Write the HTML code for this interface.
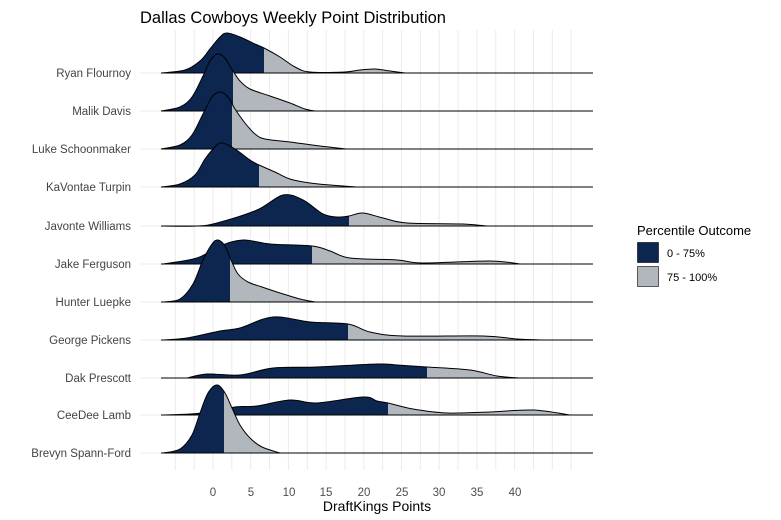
<!DOCTYPE html>
<html><head><meta charset="utf-8"><style>body{margin:0;background:#fff}svg{display:block;font-family:"Liberation Sans",sans-serif}</style></head>
<body>
<svg id="s" width="781" height="520" xmlns="http://www.w3.org/2000/svg">
<text x="140" y="23" font-size="16.5" fill="#000">Dallas Cowboys Weekly Point Distribution</text>
<g id="grid"></g><g id="ridges"></g><g id="labels" font-size="11.5" fill="#444" text-anchor="end"></g>
<g font-size="11.5" fill="#4d4d4d" text-anchor="middle">
<text x="213" y="496">0</text><text x="251" y="496">5</text><text x="289" y="496">10</text><text x="326" y="496">15</text><text x="364" y="496">20</text><text x="402" y="496">25</text><text x="439" y="496">30</text><text x="477" y="496">35</text><text x="515" y="496">40</text>
</g>
<text x="377" y="511" font-size="14" fill="#000" text-anchor="middle">DraftKings Points</text>
<text x="637" y="235" font-size="13" fill="#000">Percentile Outcome</text>
<rect x="637.5" y="242.5" width="21" height="20" fill="#0c2650" stroke="#000" stroke-width="0.6"/>
<rect x="637.5" y="266.5" width="21" height="20" fill="#b1b7bd" stroke="#000" stroke-width="0.6"/>
<text x="667" y="257" font-size="11" fill="#000">0 - 75%</text>
<text x="667" y="281" font-size="11" fill="#000">75 - 100%</text>
</svg>
<script>
var NS="http://www.w3.org/2000/svg";
function el(t,a,p){var e=document.createElementNS(NS,t);for(var k in a)e.setAttribute(k,a[k]);p.appendChild(e);return e;}
var g=document.getElementById('grid');
for(var x=175.3;x<590;x+=18.85){el('line',{x1:x,x2:x,y1:30,y2:470,stroke:'#ebebeb','stroke-width':1},g);}
for(var y of [73,111,149,187,226,264,302,340,378,415,453]){el('line',{x1:140,x2:593,y1:y,y2:y,stroke:'#ebebeb'},g);}
var rows=[
["Ryan Flournoy",73,264,[[161,0],[185,3],[200,12],[210,24],[220,36],[227,40],[240,36],[255,29],[264,25],[280,16],[295,6],[310,1],[345,1],[360,3],[375,4],[390,2],[405,0]]],
["Malik Davis",111,233,[[161,0],[180,4],[192,14],[203,35],[210,50],[217,57],[224,54],[233,40],[240,30],[250,22],[270,15],[290,8],[305,2],[315,0]]],
["Luke Schoonmaker",149,232,[[161,0],[180,4],[192,14],[203,35],[212,52],[220,57],[228,52],[235,40],[245,26],[255,15],[265,10],[290,7],[320,3],[347,0]]],
["KaVontae Turpin",187,259,[[161,0],[180,3],[195,12],[205,28],[215,40],[222,44],[235,38],[250,27],[259,22],[275,15],[290,8],[310,4],[330,2],[357,0]]],
["Javonte Williams",226,349,[[161,0],[197,0],[217,3],[257,16],[283,31],[303,26],[323,12],[337,9],[349,10],[363,13],[383,8],[407,3],[463,2],[487,0]]],
["Jake Ferguson",264,312,[[163,0],[197,6],[220,18],[243,24],[270,20],[312,18],[330,13],[350,6],[397,4],[423,1],[490,3],[520,0]]],
["Hunter Luepke",302,230,[[163,0],[180,3],[193,18],[203,42],[212,58],[218,62],[225,56],[231,42],[238,28],[248,20],[262,15],[280,9],[300,3],[315,0]]],
["George Pickens",340,348,[[163,0],[187,2],[220,9],[240,12],[273,23],[310,18],[348,16],[370,8],[403,4],[483,4],[517,1],[543,0]]],
["Dak Prescott",378,427,[[187,0],[207,4],[240,3],[273,10],[317,11],[377,14],[397,13],[427,11],[470,8],[497,2],[520,0]]],
["CeeDee Lamb",415,388,[[163,0],[190,1],[210,3],[235,8],[257,9],[290,15],[317,12],[363,18],[377,14],[388,12],[413,6],[447,2],[490,3],[533,5],[570,0]]],
["Brevyn Spann-Ford",453,224,[[163,0],[180,4],[192,18],[200,40],[208,60],[217,68],[225,60],[232,45],[240,28],[250,15],[262,6],[280,0]]]
];
var R=document.getElementById('ridges'),L=document.getElementById('labels');
rows.forEach(function(r,i){
 var b=r[1],p=r[3].map(q=>[q[0],b-q[1]]);
 var d="M"+p[0][0]+","+p[0][1];
 for(var k=0;k<p.length-1;k++){var p0=p[k-1]||p[k],p1=p[k],p2=p[k+1],p3=p[k+2]||p2;
  d+=" C"+(p1[0]+(p2[0]-p0[0])/6)+","+(p1[1]+(p2[1]-p0[1])/6)+" "+(p2[0]-(p3[0]-p1[0])/6)+","+(p2[1]-(p3[1]-p1[1])/6)+" "+p2[0]+","+p2[1];}
 var df=d+" Z";
 el('path',{d:df,fill:'#b1b7bd'},R);
 var cp=el('clipPath',{id:'c'+i},R);el('rect',{x:0,y:0,width:r[2],height:520},cp);
 el('path',{d:df,fill:'#0c2650','clip-path':'url(#c'+i+')'},R);
 el('path',{d:d,fill:'none',stroke:'#000','stroke-width':1},R);
 el('line',{x1:161,x2:593,y1:b,y2:b,stroke:'#000','stroke-width':1},R);
 var t=el('text',{x:131,y:b+4},L);t.textContent=r[0];
});
</script>
</body></html>
